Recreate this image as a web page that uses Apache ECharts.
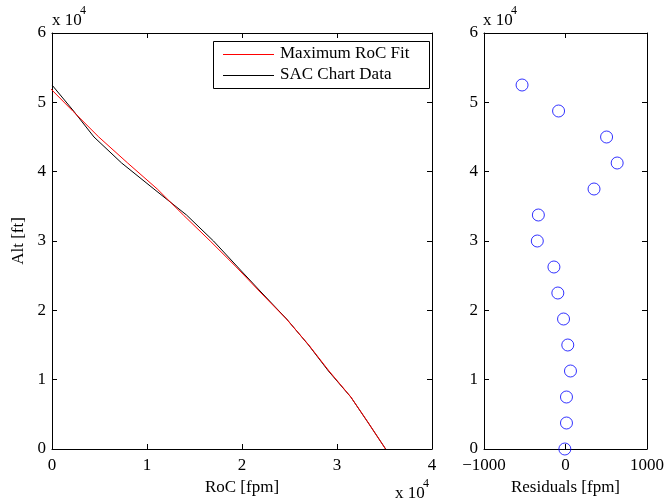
<!DOCTYPE html>
<html>
<head>
<meta charset="utf-8">
<script src="https://cdn.jsdelivr.net/npm/echarts@6/dist/echarts.min.js"></script>
<style>
  html, body { margin: 0; padding: 0; background: #fff; }
  #chart { width: 667px; height: 504px; }
</style>
</head>
<body>
<div id="chart"></div>
<script>
// Altitude stations [ft]
const altitudes = [0, 3750, 7500, 11250, 15000, 18750, 22500, 26250, 30000, 33750, 37500, 41250, 45000, 48750, 52500];
// Rate of climb [fpm]
const sacRoc = [35120, 33300, 31450, 29100, 27000, 24700, 22100, 19540, 17000, 14160, 10730, 7330, 4420, 2270, 0];
// Residuals of the maximum-RoC fit (fit minus chart data) [fpm]
const residuals = [-8, 12, 12, 61, 28, -24, -94, -142, -346, -333, 350, 634, 504, -85, -533];

const rocTicks = [0, 1, 2, 3, 4];
const altTicks = [0, 1, 2, 3, 4, 5, 6];
const resTicks = [-1000, 0, 1000];

const seriesNames = ['Maximum RoC Fit', 'SAC Chart Data'];
const seriesColors = ['#ff0000', '#000000'];

const FONT = 'Liberation Serif';
const FS = 17;

const sacPoints = altitudes.map((a, i) => [sacRoc[i], a]);
const fitPoints = altitudes.map((a, i) => [sacRoc[i] + residuals[i], a]);
const resPoints = altitudes.map((a, i) => [residuals[i], a]);

const axisLine = { show: true, onZero: false, lineStyle: { color: '#000', width: 1 } };
const tickIn = { show: true, inside: true, length: 5, lineStyle: { color: '#000', width: 1 } };
const lbl = { color: '#000', fontFamily: FONT, fontSize: FS };

function mirrorAxis(extra) {
  return Object.assign({
    type: 'value', axisLine: axisLine, axisTick: tickIn,
    axisLabel: { show: false }, splitLine: { show: false }
  }, extra);
}

// Boxed legend in the upper right of the left panel
const LEG = { x: 213, y: 41, w: 216, h: 47, rows: [54, 75] };
const legendGraphics = [
  { type: 'rect', shape: { x: LEG.x + 0.5, y: LEG.y + 0.5, width: LEG.w, height: LEG.h },
    style: { fill: '#fff', stroke: '#000', lineWidth: 1 }, z: 10 }
];
seriesNames.forEach((name, i) => {
  const cy = LEG.rows[i] + 0.5;
  legendGraphics.push({ type: 'line', shape: { x1: LEG.x + 10, y1: cy, x2: LEG.x + 61, y2: cy },
    style: { stroke: seriesColors[i], lineWidth: 1 }, z: 11 });
  legendGraphics.push({ type: 'text', x: LEG.x + 67, y: LEG.rows[i],
    style: { text: name, font: FS + 'px ' + FONT, fill: '#000', textVerticalAlign: 'middle', verticalAlign: 'middle' }, z: 11 });
});

const chart = echarts.init(document.getElementById('chart'), null, { renderer: 'canvas' });

chart.setOption({
  animation: false,
  backgroundColor: '#fff',
  textStyle: { fontFamily: FONT },
  grid: [
    { left: 52, top: 33, width: 380, height: 416 },
    { left: 484, top: 33, width: 164, height: 416 }
  ],
  xAxis: [
    {
      type: 'value', gridIndex: 0, position: 'bottom',
      min: 0, max: 40000, interval: 10000,
      axisLine: axisLine, axisTick: tickIn, splitLine: { show: false },
      axisLabel: Object.assign({ margin: 8, formatter: v => String(rocTicks[Math.round(v / 10000)]) }, lbl),
      name: 'RoC [fpm]', nameLocation: 'middle', nameGap: 16,
      nameTextStyle: lbl
    },
    mirrorAxis({ gridIndex: 0, position: 'top', min: 0, max: 40000, interval: 10000 }),
    {
      type: 'value', gridIndex: 1, position: 'bottom',
      min: -1000, max: 1000, interval: 1000,
      axisLine: axisLine, axisTick: tickIn, splitLine: { show: false },
      axisLabel: Object.assign({ margin: 8, formatter: v => String(resTicks[Math.round((v + 1000) / 1000)]).replace('-', '\u2212') }, lbl),
      name: 'Residuals [fpm]', nameLocation: 'middle', nameGap: 16,
      nameTextStyle: lbl
    },
    mirrorAxis({ gridIndex: 1, position: 'top', min: -1000, max: 1000, interval: 1000 })
  ],
  yAxis: [
    {
      type: 'value', gridIndex: 0, position: 'left',
      min: 0, max: 60000, interval: 10000,
      axisLine: axisLine, axisTick: tickIn, splitLine: { show: false },
      axisLabel: Object.assign({ margin: 6, formatter: v => String(altTicks[Math.round(v / 10000)]) }, lbl),
      name: 'Alt [ft]', nameLocation: 'middle', nameGap: 21, nameRotate: 90,
      nameTextStyle: lbl
    },
    mirrorAxis({ gridIndex: 0, position: 'right', min: 0, max: 60000, interval: 10000 }),
    {
      type: 'value', gridIndex: 1, position: 'left',
      min: 0, max: 60000, interval: 10000,
      axisLine: axisLine, axisTick: tickIn, splitLine: { show: false },
      axisLabel: Object.assign({ margin: 6, formatter: v => String(altTicks[Math.round(v / 10000)]) }, lbl)
    },
    mirrorAxis({ gridIndex: 1, position: 'right', min: 0, max: 60000, interval: 10000 })
  ],
  series: [
    {
      name: seriesNames[0], type: 'line', xAxisIndex: 0, yAxisIndex: 0,
      data: fitPoints, symbol: 'none', clip: true,
      lineStyle: { color: seriesColors[0], width: 1 }, itemStyle: { color: seriesColors[0] }, z: 3
    },
    {
      name: seriesNames[1], type: 'line', xAxisIndex: 0, yAxisIndex: 0,
      data: sacPoints, symbol: 'none', clip: true,
      lineStyle: { color: seriesColors[1], width: 1 }, itemStyle: { color: seriesColors[1] }, z: 2
    },
    {
      name: 'Residuals', type: 'scatter', xAxisIndex: 2, yAxisIndex: 2,
      data: resPoints, symbol: 'circle', symbolSize: 12,
      itemStyle: { color: 'rgba(0,0,0,0)', borderColor: '#0000ff', borderWidth: 1 }
    }
  ],
  graphic: legendGraphics.concat([
    { type: 'text', left: 52, top: 12, style: { text: 'x 10', font: FS + 'px ' + FONT, fill: '#000' } },
    { type: 'text', left: 80, top: 5, style: { text: '4', font: '12px ' + FONT, fill: '#000' } },
    { type: 'text', left: 483, top: 12, style: { text: 'x 10', font: FS + 'px ' + FONT, fill: '#000' } },
    { type: 'text', left: 511, top: 5, style: { text: '4', font: '12px ' + FONT, fill: '#000' } },
    { type: 'text', left: 395, top: 485, style: { text: 'x 10', font: FS + 'px ' + FONT, fill: '#000' } },
    { type: 'text', left: 423, top: 478, style: { text: '4', font: '12px ' + FONT, fill: '#000' } }
  ])
});
</script>
</body>
</html>
